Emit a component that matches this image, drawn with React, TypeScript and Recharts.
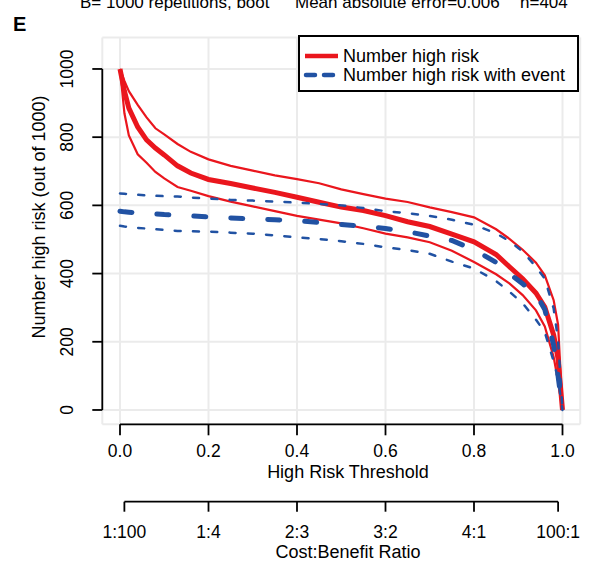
import {
  LineChart,
  Line,
  XAxis,
  YAxis,
  CartesianGrid,
  ReferenceLine,
  Legend,
  Label,
} from "recharts";

// high risk threshold values shared by all series
const thresholds = [
  0, 0.01, 0.02, 0.04, 0.06, 0.08, 0.1, 0.13, 0.16, 0.2, 0.25, 0.3, 0.35, 0.4, 0.45,
  0.5, 0.55, 0.6, 0.65, 0.7, 0.75, 0.8, 0.85, 0.88, 0.91, 0.94, 0.96, 0.98, 0.99, 1.0,
];

const highRisk = [
  1000, 935, 885, 830, 792, 768, 748, 716, 695, 676, 664, 651, 638, 624, 609,
  595, 585, 570, 552, 538, 516, 493, 456, 420, 385, 343, 302, 220, 150, 0,
];
const highRiskUpper = [
  1000, 965, 935, 895, 858, 826, 808, 780, 757, 735, 716, 702, 688, 677, 665,
  647, 633, 620, 610, 594, 580, 565, 530, 502, 470, 432, 395, 322, 250, 0,
];
const highRiskLower = [
  1000, 870, 805, 750, 725, 698, 679, 654, 643, 627, 611, 597, 583, 569, 558,
  547, 533, 517, 506, 492, 467, 434, 398, 371, 337, 292, 245, 155, 85, 0,
];
const withEvent = [
  583, 581, 580, 578, 576, 575, 573, 571, 569, 566, 563, 560, 558, 555, 550,
  544, 539, 532, 523, 510, 497, 470, 433, 400, 370, 340, 295, 190, 100, 0,
];
const withEventUpper = [
  635, 634, 633, 631, 629, 628, 627, 626, 623, 620, 616, 614, 611, 608, 604,
  600, 592, 583, 577, 569, 558, 543, 518, 495, 465, 420, 385, 298, 205, 0,
];
const withEventLower = [
  540, 538, 537, 534, 532, 530, 528, 525, 524, 523, 520, 517, 512, 506, 501,
  495, 487, 477, 469, 458, 435, 415, 378, 347, 313, 265, 228, 143, 90, 0,
];

const xTicks = [0, 0.2, 0.4, 0.6, 0.8, 1.0];
const yTicks = [0, 200, 400, 600, 800, 1000];
// cost:benefit pairs, placed at threshold = cost / (cost + benefit)
const costBenefit: Array<[number, number]> = [
  [1, 100],
  [1, 4],
  [2, 3],
  [3, 2],
  [4, 1],
  [100, 1],
];

const data = thresholds.map((t, i) => ({
  t,
  highRisk: highRisk[i],
  highRiskUpper: highRiskUpper[i],
  highRiskLower: highRiskLower[i],
  withEvent: withEvent[i],
  withEventUpper: withEventUpper[i],
  withEventLower: withEventLower[i],
}));

const cbTicks = costBenefit.map(([c, b]) => c / (c + b));
const cbLabel = (v: number) => {
  const i = cbTicks.findIndex((t) => Math.abs(t - v) < 1e-6);
  return i >= 0 ? `${costBenefit[i][0]}:${costBenefit[i][1]}` : "";
};

const RED = "#EA161D";
const BLUE = "#2152A3";
const FONT = "'Liberation Sans', Arial, Helvetica, sans-serif";
const Y_DOMAIN: [number, number] = [-42, 1092];
const CB_AXIS_Y = -269; // second x axis sits below the first one

const YTick = ({ x, y, payload }: any) => (
  <text
    x={x}
    y={y}
    transform={`rotate(-90 ${x} ${y})`}
    textAnchor="middle"
    fontSize={17.5}
    fill="#000"
    fontFamily={FONT}
  >
    {payload.value}
  </text>
);

const LegendBox = () => (
  <svg width={282} height={58}>
    <rect x={1} y={1} width={279} height={55} fill="#fff" stroke="#000" strokeWidth={2} />
    <line x1={7} y1={21} x2={40} y2={21} stroke={RED} strokeWidth={4.5} />
    <line
      x1={8}
      y1={40}
      x2={40}
      y2={40}
      stroke={BLUE}
      strokeWidth={4.5}
      strokeDasharray="9 9"
      strokeLinecap="round"
    />
    <text x={45} y={27} fontSize={18} fontFamily={FONT} fill="#000">
      Number high risk
    </text>
    <text x={45} y={46} fontSize={18} fontFamily={FONT} fill="#000">
      Number high risk with event
    </text>
  </svg>
);

export default function App() {
  return (
    <div
      style={{
        position: "absolute",
        left: 0,
        top: 0,
        width: 594,
        height: 585,
        background: "#fff",
        fontFamily: FONT,
      }}
    >
      <LineChart
        width={594}
        height={585}
        data={data}
        margin={{ top: 37.6, right: 13.8, left: 0, bottom: 0 }}
      >
        <CartesianGrid stroke="#EBEBEB" strokeWidth={2} />
        <XAxis
          dataKey="t"
          type="number"
          domain={[-0.04, 1.04]}
          ticks={xTicks}
          interval={0}
          height={77.4}
          axisLine={false}
          tickSize={11}
          tickMargin={9}
          tickLine={{ stroke: "#000", strokeWidth: 1.8 }}
          tick={{ fill: "#000", fontSize: 17.5, fontFamily: FONT }}
          tickFormatter={(v) => Number(v).toFixed(1)}
        >
          <Label
            content={() => (
              <text x={348} y={478} textAnchor="middle" fontSize={18} fontFamily={FONT} fill="#000">
                High Risk Threshold
              </text>
            )}
          />
        </XAxis>
        <XAxis
          xAxisId="cb"
          dataKey="t"
          type="number"
          domain={[-0.04, 1.04]}
          ticks={cbTicks}
          interval={0}
          height={83.3}
          axisLine={false}
          tickSize={10}
          tickMargin={14}
          tickLine={{ stroke: "#000", strokeWidth: 1.8 }}
          tick={{ fill: "#000", fontSize: 17.5, fontFamily: FONT }}
          tickFormatter={cbLabel}
        >
          <Label
            content={() => (
              <text x={348} y={558} textAnchor="middle" fontSize={18} fontFamily={FONT} fill="#000">
                Cost:Benefit Ratio
              </text>
            )}
          />
        </XAxis>
        <YAxis
          type="number"
          domain={Y_DOMAIN}
          ticks={yTicks}
          interval={0}
          width={102.3}
          axisLine={false}
          tickSize={10}
          tickMargin={19}
          tickLine={{ stroke: "#000", strokeWidth: 1.8 }}
          tick={<YTick />}
        >
          <Label
            content={() => (
              <text
                x={45}
                y={217}
                transform="rotate(-90 45 217)"
                textAnchor="middle"
                fontSize={18}
                fontFamily={FONT}
                fill="#000"
              >
                Number high risk (out of 1000)
              </text>
            )}
          />
        </YAxis>

        <Line dataKey="highRiskUpper" stroke={RED} strokeWidth={2.2} dot={false} isAnimationActive={false} legendType="none" />
        <Line dataKey="highRiskLower" stroke={RED} strokeWidth={2.2} dot={false} isAnimationActive={false} legendType="none" />
        <Line dataKey="highRisk" stroke={RED} strokeWidth={5} dot={false} isAnimationActive={false} />
        <Line
          dataKey="withEventUpper"
          stroke={BLUE}
          strokeWidth={2.5}
          strokeDasharray="6 12.3"
          strokeLinecap="round"
          dot={false}
          isAnimationActive={false}
          legendType="none"
        />
        <Line
          dataKey="withEventLower"
          stroke={BLUE}
          strokeWidth={2.5}
          strokeDasharray="6 12.3"
          strokeLinecap="round"
          dot={false}
          isAnimationActive={false}
          legendType="none"
        />
        <Line
          dataKey="withEvent"
          stroke={BLUE}
          strokeWidth={5}
          strokeDasharray="12 25"
          strokeLinecap="round"
          dot={false}
          isAnimationActive={false}
        />

        {/* R style axis lines, only spanning the tick range */}
        <ReferenceLine
          segment={[{ x: 0, y: Y_DOMAIN[0] }, { x: 1, y: Y_DOMAIN[0] }]}
          ifOverflow="visible"
          stroke="#000"
          strokeWidth={1.8}
        />
        <ReferenceLine
          segment={[{ x: -0.04, y: 0 }, { x: -0.04, y: 1000 }]}
          ifOverflow="visible"
          stroke="#000"
          strokeWidth={1.8}
        />
        <ReferenceLine
          xAxisId="cb"
          segment={[
            { x: cbTicks[0], y: CB_AXIS_Y },
            { x: cbTicks[cbTicks.length - 1], y: CB_AXIS_Y },
          ]}
          ifOverflow="visible"
          stroke="#000"
          strokeWidth={1.8}
        />

        <Legend
          layout="horizontal"
          verticalAlign="middle"
          align="center"
          content={() => <LegendBox />}
          wrapperStyle={{ position: "absolute", left: 298, top: 35, width: 282, height: 58 }}
        />
      </LineChart>

      <svg
        width={594}
        height={585}
        style={{ position: "absolute", left: 0, top: 0, pointerEvents: "none" }}
      >
        {/* subtitle of the panel above, clipped by the top edge as in the source figure */}
        <text x={80} y={8} fontSize={17} fontFamily={FONT} fill="#000">
          B= 1000 repetitions, boot
        </text>
        <text x={295} y={8} fontSize={17} fontFamily={FONT} fill="#000">
          Mean absolute error=0.006
        </text>
        <text x={520} y={8} fontSize={17} fontFamily={FONT} fill="#000">
          n=404
        </text>
        <text x={13} y={31} fontSize={20} fontWeight="bold" fontFamily={FONT} fill="#000">
          E
        </text>
      </svg>
    </div>
  );
}
